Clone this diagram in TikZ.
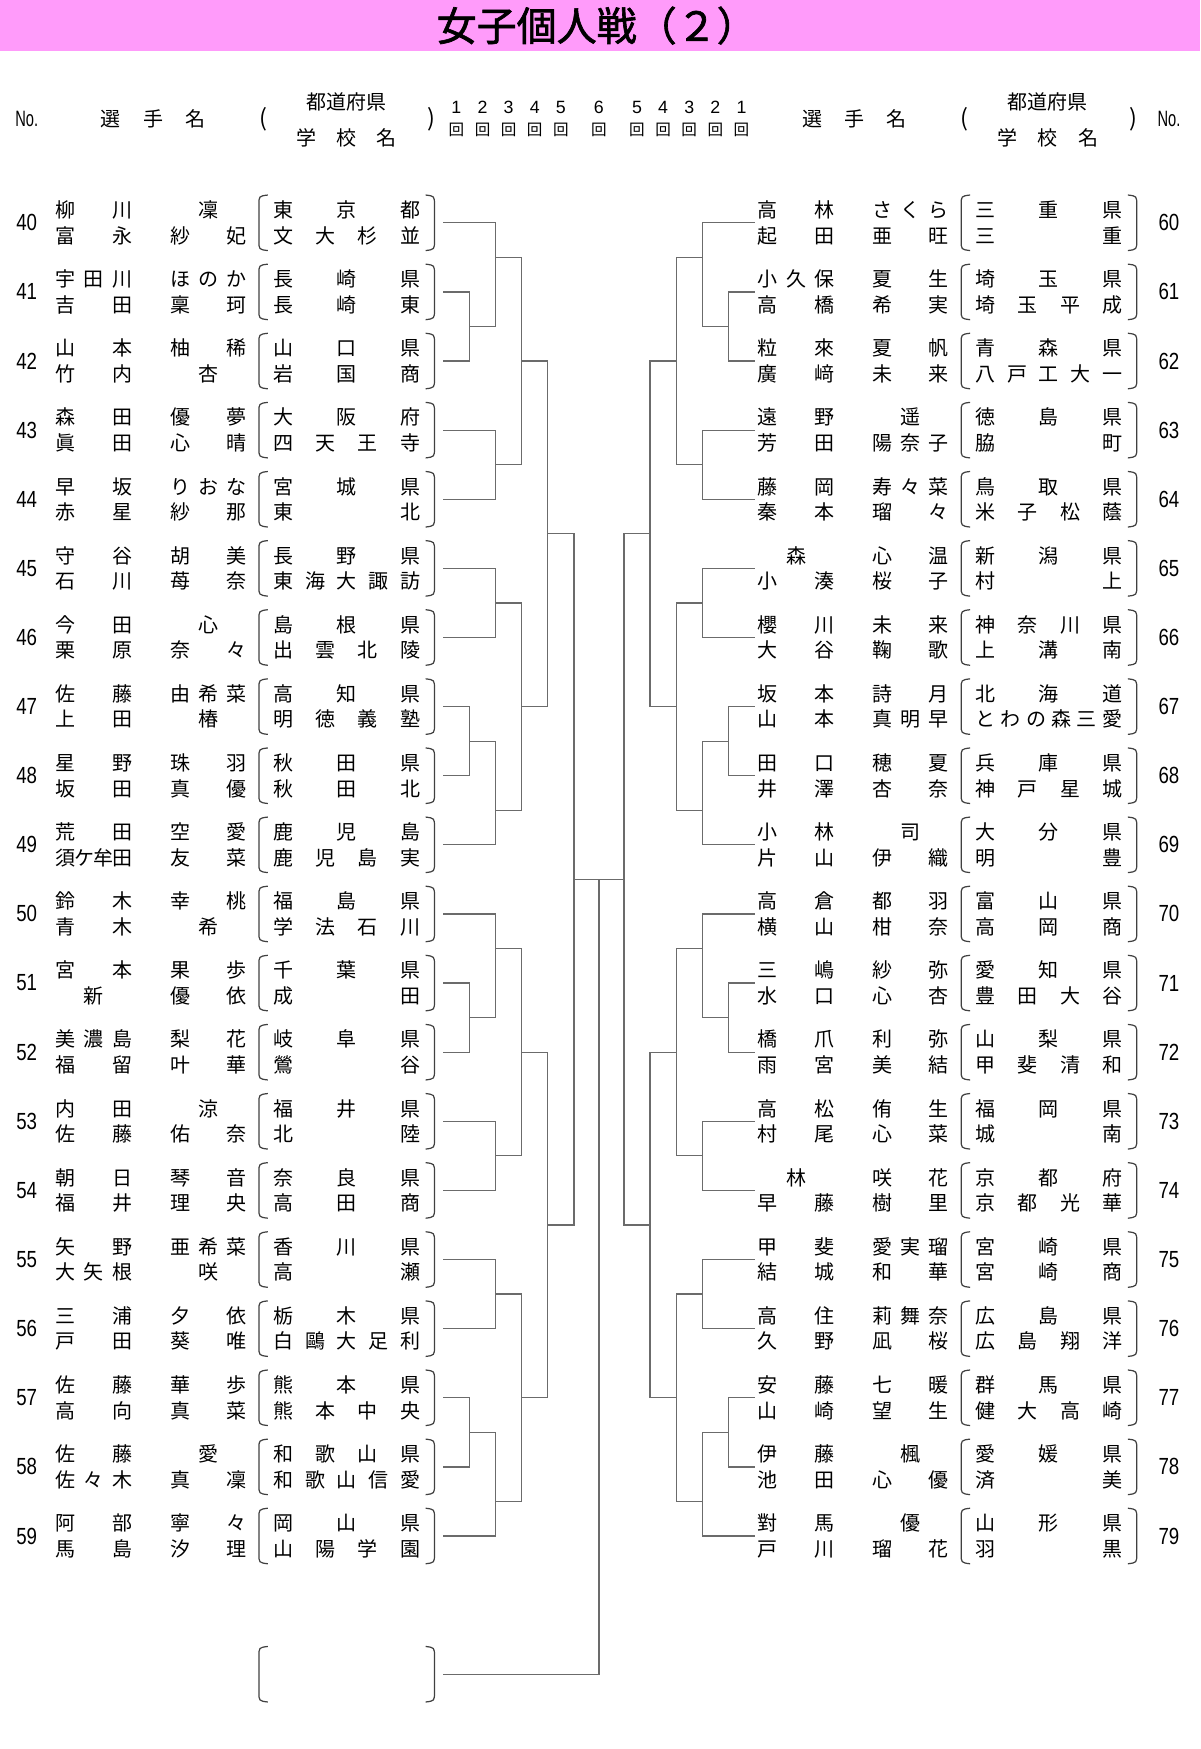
\documentclass[tikz,border=0pt]{standalone}
\usepackage{fontspec}
\usepackage{tikz}
\newfontfamily\jp{Noto Sans CJK JP}
\newfontfamily\jpt[FakeBold=1.6]{Noto Sans CJK JP}
\newfontfamily\nar[FakeStretch=0.8]{Liberation Sans}
\newfontfamily\narr[FakeStretch=0.66]{Liberation Sans}
\newfontfamily\arl{Liberation Sans}
\definecolor{bandpink}{RGB}{255,155,250}

\newcount\nch
\newcommand\spread[5]{%
  \global\nch=0
  \foreach \c in {#5}{\global\advance\nch by 1}%
  \foreach \c [count=\i from 0] in {#5}{%
    \pgfmathsetmacro\px{\the\nch==1 ? ((#2)+(#3))/2 : (#2)+\i*((#3)-(#2))/max(\the\nch-1,1)}%
    \node[ch] (#1-\i) at (\px,#4) {\c};}}
\newcommand\brk[2]{%
  \draw[paren] ({#1+241},{#2-25}) .. controls ({#1+233},{#2-24}) .. ({#1+233},{#2-16})
    -- ({#1+233},{#2+16}) .. controls ({#1+233},{#2+24}) .. ({#1+241},{#2+25});
  \draw[paren] ({#1+383},{#2-25}) .. controls ({#1+391},{#2-24}) .. ({#1+391},{#2-16})
    -- ({#1+391},{#2+16}) .. controls ({#1+391},{#2+24}) .. ({#1+383},{#2+25});}
\newcommand\ent[7]{%
  \pgfmathtruncatemacro\rw{mod(#1-40,20)}%
  \pgfmathsetmacro\xo{#1<60 ? 0 : 632}%
  \pgfmathsetmacro\xn{#1<60 ? 24 : 1052}%
  \pgfmathsetmacro\yc{200.5+62.2*\rw}%
  \pgfmathsetmacro\ya{\yc-11.5}%
  \pgfmathsetmacro\yb{\yc+11.5}%
  \node[num] (no#1) at (\xn,\yc) {#1};
  \spread{#1a}{\xo+59}{\xo+110}{\ya}{#2}%
  \spread{#1b}{\xo+162}{\xo+213}{\ya}{#3}%
  \spread{#1c}{\xo+59}{\xo+110}{\yb}{#4}%
  \spread{#1d}{\xo+162}{\xo+213}{\yb}{#5}%
  \spread{#1e}{\xo+255}{\xo+369}{\ya}{#6}%
  \spread{#1f}{\xo+255}{\xo+369}{\yb}{#7}%
  \brk{\xo}{\yc}}
\newcommand\jn[5]{\draw[bl] ({colx(#1)},{rowy(#2)}) -| ({colx(#5)},{rowy(#4)}) -- ({colx(#3)},{rowy(#4)});}
\newcommand\qa[1]{%
  \jn{0}{#1+1}{0}{#1+2}{1}
  \jn{0}{#1}{1}{#1+1.5}{2}
  \jn{0}{#1+3}{0}{#1+4}{2}
  \jn{2}{#1+0.5}{2}{#1+3.5}{3}}
\newcommand\qb[1]{%
  \jn{0}{#1}{0}{#1+1}{2}
  \jn{0}{#1+2}{0}{#1+3}{1}
  \jn{1}{#1+2.5}{0}{#1+4}{2}
  \jn{2}{#1+0.5}{2}{#1+3.5}{3}}
\newcommand\halfbracket{%
  \qa{0}\qb{5}\qa{10}\qb{15}
  \jn{3}{2}{3}{7}{4}
  \jn{3}{12}{3}{17}{4}
  \jn{4}{4.5}{4}{14.5}{5}
  \draw[bl] ({colx(5)},{rowy(9.5)}) -- (0,{rowy(9.5)});}

\begin{document}
\begin{tikzpicture}[x=1pt,y=-1pt,
  declare function={colx(\k)=-140+23.5*\k; rowy(\r)=200.5+62.2*\r;},
  ch/.style={inner sep=0pt,font=\jp\fontsize{18}{18}\selectfont,text height=15.8pt,text depth=2.2pt},
  hd/.style={inner sep=0pt,font=\jp\fontsize{18}{18}\selectfont},
  num/.style={inner sep=0pt,font=\nar\fontsize{21}{21}\selectfont},
  rnd/.style={inner sep=0pt,font=\arl\fontsize{16}{16}\selectfont},
  kai/.style={inner sep=0pt,font=\jp\fontsize{14}{14}\selectfont},
  bl/.style={line width=1.1pt,draw=black!58},
  paren/.style={line width=1.1pt,draw=black!75}]
\useasboundingbox (0,0) rectangle (1080,1574);
\fill[bandpink] (0,0) rectangle (1080,45.6);
\node[inner sep=0pt,font=\jpt\fontsize{36}{36}\selectfont] (title) at (537,23) {女子個人戦（２）};

\node[hd,font=\narr\fontsize{20}{20}\selectfont] (nol) at (24,107) {No.};
\node[hd] (hl1) at (99,107) {選};
\node[hd] (hl2) at (138,107) {手};
\node[hd] (hl3) at (176,107) {名};
\node[hd,font=\jp\fontsize{21}{21}\selectfont] (hl4) at (237,107) {(};
\node[hd] (hl5) at (312,92) {都道府県};
\node[hd] (hl6) at (276,124) {学};
\node[hd] (hl7) at (312,124) {校};
\node[hd] (hl8) at (348,124) {名};
\node[hd,font=\jp\fontsize{21}{21}\selectfont] (hl9) at (388,107) {)};
\node[hd] (hr1) at (731,107) {選};
\node[hd] (hr2) at (769,107) {手};
\node[hd] (hr3) at (807,107) {名};
\node[hd,font=\jp\fontsize{21}{21}\selectfont] (hr4) at (868,107) {(};
\node[hd] (hr5) at (943,92) {都道府県};
\node[hd] (hr6) at (907,124) {学};
\node[hd] (hr7) at (943,124) {校};
\node[hd] (hr8) at (980,124) {名};
\node[hd,font=\jp\fontsize{21}{21}\selectfont] (hr9) at (1020,107) {)};
\node[hd,font=\narr\fontsize{20}{20}\selectfont] (nor) at (1052,107) {No.};

\begin{scope}[shift={(539,0)}]
  \foreach \k in {1,...,5}{
    \node[rnd] (rl\k) at ({colx(\k-0.5)},97) {\k};
    \node[kai] (kl\k) at ({colx(\k-0.5)},117) {回};}
  \node[rnd] (r6) at (0,97) {6};
  \node[kai] (k6) at (0,117) {回};
  \halfbracket
  \draw[bl] (0,{rowy(9.5)}) -- (0,{rowy(21)}) -- ({colx(0)},{rowy(21)});
\end{scope}
\begin{scope}[shift={(539,0)},xscale=-1]
  \foreach \k in {1,...,5}{
    \node[rnd] (rr\k) at ({colx(\k-0.5)},97) {\k};
    \node[kai] (kr\k) at ({colx(\k-0.5)},117) {回};}
  \halfbracket
\end{scope}
\brk{0}{1506.7}

\ent{40}{柳,川}{凜}{富,永}{紗,妃}{東,京,都}{文,大,杉,並}
\ent{41}{宇,田,川}{ほ,の,か}{吉,田}{稟,珂}{長,崎,県}{長,崎,東}
\ent{42}{山,本}{柚,稀}{竹,内}{杏}{山,口,県}{岩,国,商}
\ent{43}{森,田}{優,夢}{眞,田}{心,晴}{大,阪,府}{四,天,王,寺}
\ent{44}{早,坂}{り,お,な}{赤,星}{紗,那}{宮,城,県}{東,北}
\ent{45}{守,谷}{胡,美}{石,川}{苺,奈}{長,野,県}{東,海,大,諏,訪}
\ent{46}{今,田}{心}{栗,原}{奈,々}{島,根,県}{出,雲,北,陵}
\ent{47}{佐,藤}{由,希,菜}{上,田}{椿}{高,知,県}{明,徳,義,塾}
\ent{48}{星,野}{珠,羽}{坂,田}{真,優}{秋,田,県}{秋,田,北}
\ent{49}{荒,田}{空,愛}{須,ケ,牟,田}{友,菜}{鹿,児,島}{鹿,児,島,実}
\ent{50}{鈴,木}{幸,桃}{青,木}{希}{福,島,県}{学,法,石,川}
\ent{51}{宮,本}{果,歩}{新}{優,依}{千,葉,県}{成,田}
\ent{52}{美,濃,島}{梨,花}{福,留}{叶,華}{岐,阜,県}{鶯,谷}
\ent{53}{内,田}{涼}{佐,藤}{佑,奈}{福,井,県}{北,陸}
\ent{54}{朝,日}{琴,音}{福,井}{理,央}{奈,良,県}{高,田,商}
\ent{55}{矢,野}{亜,希,菜}{大,矢,根}{咲}{香,川,県}{高,瀬}
\ent{56}{三,浦}{夕,依}{戸,田}{葵,唯}{栃,木,県}{白,鷗,大,足,利}
\ent{57}{佐,藤}{華,歩}{高,向}{真,菜}{熊,本,県}{熊,本,中,央}
\ent{58}{佐,藤}{愛}{佐,々,木}{真,凜}{和,歌,山,県}{和,歌,山,信,愛}
\ent{59}{阿,部}{寧,々}{馬,島}{汐,理}{岡,山,県}{山,陽,学,園}

\ent{60}{高,林}{さ,く,ら}{起,田}{亜,旺}{三,重,県}{三,重}
\ent{61}{小,久,保}{夏,生}{高,橋}{希,実}{埼,玉,県}{埼,玉,平,成}
\ent{62}{粒,來}{夏,帆}{廣,﨑}{未,来}{青,森,県}{八,戸,工,大,一}
\ent{63}{遠,野}{遥}{芳,田}{陽,奈,子}{徳,島,県}{脇,町}
\ent{64}{藤,岡}{寿,々,菜}{秦,本}{瑠,々}{鳥,取,県}{米,子,松,蔭}
\ent{65}{森}{心,温}{小,湊}{桜,子}{新,潟,県}{村,上}
\ent{66}{櫻,川}{未,来}{大,谷}{鞠,歌}{神,奈,川,県}{上,溝,南}
\ent{67}{坂,本}{詩,月}{山,本}{真,明,早}{北,海,道}{と,わ,の,森,三,愛}
\ent{68}{田,口}{穂,夏}{井,澤}{杏,奈}{兵,庫,県}{神,戸,星,城}
\ent{69}{小,林}{司}{片,山}{伊,織}{大,分,県}{明,豊}
\ent{70}{高,倉}{都,羽}{横,山}{柑,奈}{富,山,県}{高,岡,商}
\ent{71}{三,嶋}{紗,弥}{水,口}{心,杏}{愛,知,県}{豊,田,大,谷}
\ent{72}{橋,爪}{利,弥}{雨,宮}{美,結}{山,梨,県}{甲,斐,清,和}
\ent{73}{高,松}{侑,生}{村,尾}{心,菜}{福,岡,県}{城,南}
\ent{74}{林}{咲,花}{早,藤}{樹,里}{京,都,府}{京,都,光,華}
\ent{75}{甲,斐}{愛,実,瑠}{結,城}{和,華}{宮,崎,県}{宮,崎,商}
\ent{76}{高,住}{莉,舞,奈}{久,野}{凪,桜}{広,島,県}{広,島,翔,洋}
\ent{77}{安,藤}{七,暖}{山,崎}{望,生}{群,馬,県}{健,大,高,崎}
\ent{78}{伊,藤}{楓}{池,田}{心,優}{愛,媛,県}{済,美}
\ent{79}{對,馬}{優}{戸,川}{瑠,花}{山,形,県}{羽,黒}
\end{tikzpicture}
\end{document}
